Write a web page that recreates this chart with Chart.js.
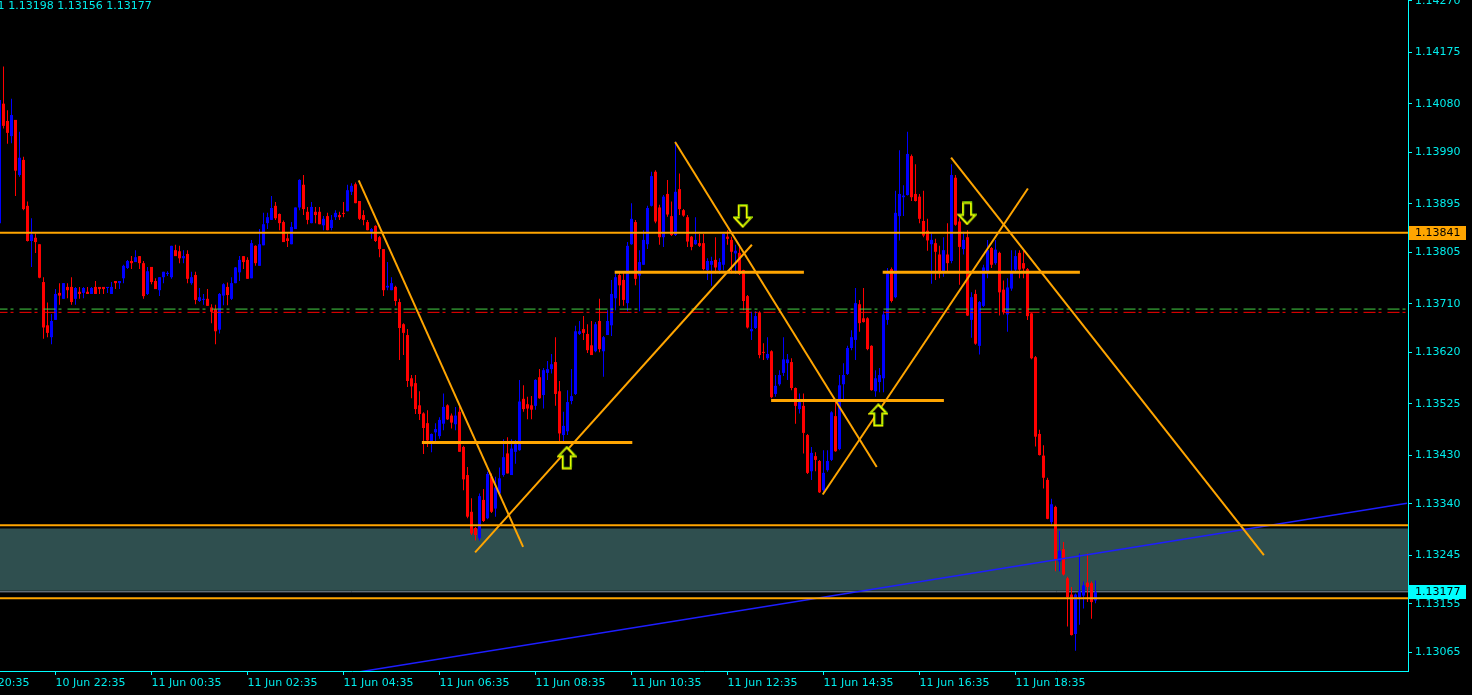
<!DOCTYPE html>
<html>
<head>
<meta charset="utf-8">
<script src="https://cdn.jsdelivr.net/npm/chart.js@4.4.0/dist/chart.umd.min.js"></script>
<style>
  html, body { margin: 0; padding: 0; background: #000; overflow: hidden; }
  #wrap { width: 1472px; height: 695px; }
</style>
</head>
<body>
<div id="wrap"><canvas id="chart"></canvas></div>
<script>
// EURUSD M5 bars, bar 0 = 10 Jun 21:25
const opens = [
  1.13859,1.14080,1.14048,1.14020,1.14050,1.13948,1.13976,1.13891,1.13826,1.13832,
  1.13820,1.13750,1.13670,1.13648,1.13680,1.13730,1.13719,1.13741,1.13741,1.13719,
  1.13732,1.13730,1.13732,1.13728,1.13741,1.13741,1.13741,1.13739,1.13728,1.13752,
  1.13748,1.13757,1.13776,1.13789,1.13787,1.13798,1.13785,1.13728,1.13778,1.13752,
  1.13735,1.13759,1.13765,1.13759,1.13809,1.13807,1.13794,1.13802,1.13748,1.13763,
  1.13715,1.13717,1.13719,1.13703,1.13700,1.13662,1.13725,1.13741,1.13719,1.13748,
  1.13768,1.13798,1.13791,1.13757,1.13817,1.13780,1.13818,1.13859,1.13865,1.13891,
  1.13876,1.13861,1.13831,1.13820,1.13848,1.13888,1.13930,1.13880,1.13859,1.13880,
  1.13880,1.13855,1.13872,1.13850,1.13870,1.13874,1.13878,1.13881,1.13917,1.13931,
  1.13900,1.13874,1.13861,1.13843,1.13854,1.13833,1.13811,1.13740,1.13735,1.13741,
  1.13713,1.13672,1.13652,1.13572,1.13563,1.13522,1.13507,1.13489,1.13454,1.13472,
  1.13465,1.13488,1.13522,1.13503,1.13487,1.13510,1.13445,1.13393,1.13325,1.13295,
  1.13276,1.13347,1.13313,1.13390,1.13331,1.13359,1.13393,1.13433,1.13393,1.13436,
  1.13439,1.13534,1.13524,1.13522,1.13521,1.13574,1.13541,1.13582,1.13589,1.13602,
  1.13548,1.13467,1.13474,1.13530,1.13543,1.13654,1.13663,1.13654,1.13633,1.13622,
  1.13678,1.13622,1.13652,1.13670,1.13720,1.13763,1.13754,1.13711,1.13820,1.13861,
  1.13762,1.13782,1.13820,1.13891,1.13954,1.13888,1.13833,1.13913,1.13872,1.13837,
  1.13922,1.13883,1.13870,1.13834,1.13820,1.13822,1.13822,1.13772,1.13782,1.13791,
  1.13772,1.13782,1.13834,1.13828,1.13803,1.13804,1.13772,1.13724,1.13659,1.13665,
  1.13694,1.13620,1.13609,1.13622,1.13543,1.13561,1.13582,1.13600,1.13602,1.13554,
  1.13515,1.13521,1.13467,1.13400,1.13428,1.13419,1.13365,1.13402,1.13421,1.13502,
  1.13441,1.13561,1.13580,1.13628,1.13643,1.13709,1.13683,1.13683,1.13632,1.13548,
  1.13565,1.13572,1.13680,1.13774,1.13722,1.13872,1.13907,1.13911,1.13983,1.13913,
  1.13908,1.13863,1.13845,1.13820,1.13822,1.13801,1.13769,1.13801,1.13789,1.13943,
  1.13862,1.13811,1.13833,1.13680,1.13728,1.13632,1.13706,1.13768,1.13813,1.13785,
  1.13804,1.13736,1.13690,1.13738,1.13773,1.13804,1.13785,1.13774,1.13692,1.13611,
  1.13469,1.13429,1.13384,1.13306,1.13334,1.13233,1.13256,1.13202,1.13172,1.13099,
  1.13167,1.13170,1.13194,1.13193,1.13161
];
const highs = [
  1.14090,1.14149,1.14068,1.14089,1.14050,1.14028,1.13982,1.13899,1.13868,1.13840,
  1.13820,1.13759,1.13712,1.13691,1.13737,1.13748,1.13748,1.13748,1.13759,1.13741,
  1.13741,1.13741,1.13741,1.13741,1.13752,1.13741,1.13741,1.13741,1.13750,1.13752,
  1.13752,1.13782,1.13791,1.13798,1.13809,1.13798,1.13789,1.13778,1.13778,1.13757,
  1.13759,1.13769,1.13770,1.13817,1.13819,1.13817,1.13809,1.13809,1.13769,1.13769,
  1.13739,1.13728,1.13737,1.13709,1.13708,1.13730,1.13748,1.13749,1.13759,1.13778,
  1.13798,1.13798,1.13796,1.13828,1.13818,1.13848,1.13878,1.13878,1.13909,1.13898,
  1.13877,1.13864,1.13840,1.13861,1.13888,1.13940,1.13948,1.13889,1.13898,1.13889,
  1.13889,1.13872,1.13878,1.13874,1.13883,1.13880,1.13898,1.13930,1.13933,1.13934,
  1.13900,1.13883,1.13865,1.13850,1.13855,1.13835,1.13811,1.13787,1.13759,1.13743,
  1.13719,1.13674,1.13663,1.13578,1.13578,1.13548,1.13509,1.13513,1.13470,1.13489,
  1.13500,1.13544,1.13524,1.13507,1.13519,1.13519,1.13447,1.13408,1.13350,1.13297,
  1.13359,1.13367,1.13399,1.13396,1.13390,1.13407,1.13459,1.13463,1.13459,1.13458,
  1.13569,1.13559,1.13538,1.13539,1.13570,1.13589,1.13591,1.13604,1.13617,1.13648,
  1.13567,1.13510,1.13550,1.13589,1.13669,1.13678,1.13687,1.13672,1.13678,1.13676,
  1.13719,1.13650,1.13698,1.13754,1.13768,1.13768,1.13768,1.13824,1.13896,1.13865,
  1.13809,1.13846,1.13891,1.13954,1.13957,1.13893,1.13911,1.13939,1.13899,1.14010,
  1.13951,1.13885,1.13874,1.13835,1.13870,1.13839,1.13839,1.13794,1.13797,1.13833,
  1.13794,1.13840,1.13846,1.13834,1.13819,1.13819,1.13773,1.13726,1.13695,1.13696,
  1.13696,1.13637,1.13648,1.13624,1.13578,1.13587,1.13648,1.13617,1.13609,1.13555,
  1.13544,1.13544,1.13469,1.13445,1.13435,1.13421,1.13439,1.13439,1.13511,1.13532,
  1.13578,1.13600,1.13632,1.13661,1.13739,1.13717,1.13739,1.13685,1.13633,1.13587,
  1.13591,1.13696,1.13776,1.13777,1.13919,1.13994,1.13929,1.14028,1.13986,1.13968,
  1.13913,1.13919,1.13867,1.13840,1.13830,1.13817,1.13833,1.13859,1.13968,1.13948,
  1.13868,1.13843,1.13846,1.13731,1.13736,1.13715,1.13782,1.13828,1.13815,1.13828,
  1.13806,1.13753,1.13757,1.13809,1.13809,1.13809,1.13808,1.13776,1.13693,1.13613,
  1.13477,1.13448,1.13388,1.13349,1.13336,1.13290,1.13269,1.13205,1.13186,1.13174,
  1.13248,1.13196,1.13248,1.13196,1.13198
];
const lows = [
  1.13855,1.14034,1.14006,1.14007,1.13909,1.13945,1.13883,1.13825,1.13778,1.13804,
  1.13757,1.13645,1.13648,1.13635,1.13680,1.13708,1.13719,1.13720,1.13708,1.13708,
  1.13719,1.13720,1.13728,1.13728,1.13728,1.13728,1.13728,1.13730,1.13728,1.13737,
  1.13737,1.13748,1.13774,1.13774,1.13787,1.13774,1.13719,1.13726,1.13746,1.13737,
  1.13724,1.13748,1.13761,1.13756,1.13798,1.13785,1.13785,1.13748,1.13745,1.13709,
  1.13713,1.13708,1.13706,1.13674,1.13635,1.13655,1.13707,1.13707,1.13717,1.13748,
  1.13752,1.13774,1.13756,1.13757,1.13780,1.13780,1.13818,1.13848,1.13865,1.13865,
  1.13846,1.13824,1.13815,1.13820,1.13848,1.13883,1.13874,1.13857,1.13859,1.13859,
  1.13857,1.13846,1.13846,1.13846,1.13865,1.13865,1.13870,1.13881,1.13911,1.13896,
  1.13865,1.13855,1.13846,1.13830,1.13824,1.13796,1.13724,1.13735,1.13735,1.13706,
  1.13606,1.13615,1.13556,1.13535,1.13506,1.13495,1.13432,1.13445,1.13435,1.13456,
  1.13460,1.13476,1.13495,1.13479,1.13476,1.13436,1.13365,1.13313,1.13282,1.13272,
  1.13272,1.13306,1.13311,1.13323,1.13316,1.13356,1.13390,1.13396,1.13393,1.13414,
  1.13438,1.13510,1.13496,1.13496,1.13514,1.13534,1.13516,1.13569,1.13581,1.13521,
  1.13451,1.13451,1.13467,1.13524,1.13541,1.13652,1.13643,1.13619,1.13615,1.13620,
  1.13620,1.13575,1.13652,1.13650,1.13698,1.13706,1.13706,1.13696,1.13819,1.13744,
  1.13696,1.13782,1.13811,1.13890,1.13859,1.13819,1.13815,1.13871,1.13835,1.13835,
  1.13874,1.13871,1.13815,1.13809,1.13819,1.13815,1.13772,1.13754,1.13743,1.13766,
  1.13765,1.13772,1.13819,1.13766,1.13765,1.13763,1.13698,1.13664,1.13643,1.13663,
  1.13609,1.13606,1.13606,1.13535,1.13538,1.13558,1.13576,1.13569,1.13550,1.13488,
  1.13507,1.13433,1.13395,1.13384,1.13400,1.13360,1.13362,1.13399,1.13419,1.13436,
  1.13439,1.13532,1.13578,1.13624,1.13606,1.13658,1.13675,1.13624,1.13549,1.13538,
  1.13546,1.13546,1.13671,1.13712,1.13720,1.13827,1.13872,1.13910,1.13900,1.13899,
  1.13859,1.13833,1.13808,1.13747,1.13754,1.13757,1.13760,1.13769,1.13785,1.13854,
  1.13745,1.13801,1.13687,1.13647,1.13634,1.13616,1.13704,1.13757,1.13776,1.13782,
  1.13688,1.13690,1.13658,1.13734,1.13769,1.13757,1.13757,1.13680,1.13607,1.13446,
  1.13429,1.13368,1.13311,1.13301,1.13215,1.13215,1.13207,1.13113,1.13096,1.13068,
  1.13116,1.13146,1.13158,1.13127,1.13156
];
const closes = [
  1.14087,1.14039,1.14026,1.14059,1.13956,1.13980,1.13885,1.13826,1.13838,1.13824,
  1.13758,1.13666,1.13656,1.13678,1.13728,1.13725,1.13748,1.13735,1.13713,1.13739,
  1.13728,1.13739,1.13728,1.13739,1.13728,1.13737,1.13737,1.13741,1.13741,1.13748,
  1.13752,1.13780,1.13789,1.13785,1.13796,1.13785,1.13724,1.13770,1.13750,1.13737,
  1.13759,1.13769,1.13767,1.13817,1.13798,1.13794,1.13798,1.13756,1.13759,1.13717,
  1.13722,1.13719,1.13706,1.13695,1.13659,1.13728,1.13746,1.13726,1.13748,1.13777,
  1.13791,1.13787,1.13756,1.13822,1.13785,1.13820,1.13857,1.13870,1.13887,1.13868,
  1.13859,1.13824,1.13826,1.13852,1.13888,1.13939,1.13885,1.13865,1.13889,1.13874,
  1.13857,1.13867,1.13846,1.13865,1.13878,1.13870,1.13876,1.13920,1.13928,1.13896,
  1.13867,1.13865,1.13846,1.13848,1.13826,1.13811,1.13735,1.13743,1.13748,1.13715,
  1.13665,1.13656,1.13567,1.13557,1.13515,1.13506,1.13480,1.13457,1.13469,1.13478,
  1.13495,1.13519,1.13496,1.13490,1.13503,1.13436,1.13385,1.13316,1.13285,1.13282,
  1.13354,1.13308,1.13395,1.13325,1.13370,1.13387,1.13426,1.13396,1.13442,1.13450,
  1.13529,1.13515,1.13516,1.13514,1.13569,1.13535,1.13587,1.13589,1.13598,1.13543,
  1.13470,1.13484,1.13528,1.13539,1.13659,1.13659,1.13656,1.13624,1.13615,1.13672,
  1.13626,1.13648,1.13678,1.13728,1.13759,1.13744,1.13717,1.13817,1.13867,1.13756,
  1.13787,1.13828,1.13887,1.13946,1.13862,1.13833,1.13908,1.13875,1.13837,1.13917,
  1.13885,1.13873,1.13825,1.13815,1.13828,1.13817,1.13774,1.13789,1.13789,1.13777,
  1.13787,1.13839,1.13830,1.13806,1.13808,1.13765,1.13715,1.13666,1.13663,1.13687,
  1.13615,1.13619,1.13617,1.13537,1.13558,1.13578,1.13607,1.13607,1.13554,1.13521,
  1.13528,1.13471,1.13397,1.13434,1.13421,1.13361,1.13397,1.13419,1.13509,1.13437,
  1.13559,1.13578,1.13628,1.13648,1.13711,1.13674,1.13676,1.13626,1.13550,1.13572,
  1.13578,1.13690,1.13766,1.13715,1.13878,1.13913,1.13910,1.13987,1.13907,1.13900,
  1.13867,1.13836,1.13827,1.13828,1.13806,1.13766,1.13809,1.13785,1.13948,1.13856,
  1.13815,1.13828,1.13688,1.13722,1.13636,1.13713,1.13777,1.13809,1.13782,1.13810,
  1.13731,1.13694,1.13740,1.13769,1.13798,1.13773,1.13775,1.13687,1.13609,1.13464,
  1.13430,1.13388,1.13312,1.13339,1.13237,1.13253,1.13209,1.13167,1.13097,1.13172,
  1.13178,1.13189,1.13186,1.13158,1.13177
];

// time axis (bar index of each label) and price axis
const tickBars = [-10, 14, 38, 62, 86, 110, 134, 158, 182, 206, 230, 254];
const tickLabels = ['10 Jun 20:35', '10 Jun 22:35', '11 Jun 00:35', '11 Jun 02:35', '11 Jun 04:35', '11 Jun 06:35',
  '11 Jun 08:35', '11 Jun 10:35', '11 Jun 12:35', '11 Jun 14:35', '11 Jun 16:35', '11 Jun 18:35'];
const priceTicks = [1.14270, 1.14175, 1.14080, 1.13990, 1.13895, 1.13805, 1.13710,
  1.13620, 1.13525, 1.13430, 1.13340, 1.13245, 1.13155, 1.13065];

// drawn objects
const orangeLevels = [1.13841, 1.13300, 1.13165];
const zoneTop = 1.13294, zoneBottom = 1.13179;
const bidPrice = 1.13177;
const dashGreen = 1.13700, dashRed = 1.13694;
const trendLines = [
  [89.8, 1.13938, 130.9, 1.13260],
  [118.9, 1.13250, 188.1, 1.13819],
  [168.9, 1.14009, 219.3, 1.13408],
  [205.8, 1.13357, 257.1, 1.13923],
  [237.9, 1.13980, 316.1, 1.13245]
];
const shortLevels = [
  [105.6, 158.2, 1.13453],
  [153.8, 201.1, 1.13768],
  [192.9, 236.1, 1.13531],
  [220.8, 270.1, 1.13768]
];
const blueLine = [80, 1.13017, 351.9, 1.13341];
const upArrows = [[141.8, 1.13425], [219.7, 1.13504]];
const downArrows = [[185.8, 1.13872], [241.9, 1.13877]];

const X_MIN = 0.125, X_MAX = 352.125;
const Y_MIN = 1.130305, Y_MAX = 1.142718;
const AXIS = '#00ffff';
const TXT = '#00ecec';
const ORANGE = '#ffa500';
const FONT = { family: 'DejaVu Sans', size: 11 };

const idx = closes.map((c, i) => i);
const colors = idx.map(i => closes[i] >= opens[i] ? '#0000ff' : '#ff0000');

function seg(x1, y1, x2, y2) { return [{ x: x1, y: y1 }, { x: x2, y: y2 }]; }
function lineDs(data, color, width, order, dash) {
  return { type: 'line', data, borderColor: color, borderWidth: width, pointRadius: 0,
    borderDash: dash || [], fill: false, order };
}

// hollow arrow glyph used as a point style
function makeArrow(up) {
  const c = document.createElement('canvas');
  c.width = 20; c.height = 24;
  const g = c.getContext('2d');
  let pts = [[10, 1.5], [18.5, 10.5], [14, 10.5], [14, 22.5], [6, 22.5], [6, 10.5], [1.5, 10.5]];
  if (!up) pts = pts.map(p => [p[0], 24 - p[1]]);
  const path = (dx, dy) => {
    g.beginPath();
    pts.forEach((p, i) => i ? g.lineTo(p[0] + dx, p[1] + dy) : g.moveTo(p[0] + dx, p[1] + dy));
    g.closePath();
  };
  path(0, 0);
  g.fillStyle = '#000';
  g.fill();
  g.lineWidth = 2;
  g.strokeStyle = '#ffff00';
  g.stroke();
  path(0.8, -0.8);
  g.lineWidth = 0.7;
  g.strokeStyle = '#4cc800';
  g.stroke();
  return c;
}
const upImg = makeArrow(true), downImg = makeArrow(false);

const datasets = [];
// rectangle zone
datasets.push({ type: 'line', data: seg(-1, zoneTop, 354, zoneTop), borderWidth: 0, pointRadius: 0,
  backgroundColor: '#2f4f4f', fill: { value: zoneBottom }, order: 30 });
// bid line
datasets.push(lineDs(seg(-1, bidPrice, 354, bidPrice), '#8a9aaa', 1, 25));
// candles: wicks then bodies
datasets.push({ type: 'bar', data: idx.map(i => ({ x: i, y: [lows[i], highs[i]] })),
  backgroundColor: colors, barThickness: 1, maxBarThickness: 1, grouped: false,
  minBarLength: 1, inflateAmount: 0, borderWidth: 0, order: 20 });
datasets.push({ type: 'bar', data: idx.map(i => ({ x: i, y: [opens[i], closes[i]] })),
  backgroundColor: colors, barThickness: 3, maxBarThickness: 3, grouped: false,
  minBarLength: 1, inflateAmount: 0, borderWidth: 0, order: 19 });
// dash-dot lines
datasets.push(lineDs(seg(-1, dashGreen, 354, dashGreen), '#46d246', 1, 10, [12, 3, 3, 6]));
datasets.push(lineDs(seg(-1, dashRed, 354, dashRed), '#ff0000', 1, 10, [12, 3, 3, 6]));
// blue trend line
datasets.push(lineDs(seg(...blueLine), '#1e1eff', 1.5, 8));
// orange levels and trend lines
orangeLevels.forEach(p => datasets.push(lineDs(seg(-1, p, 354, p), ORANGE, 2, 5)));
shortLevels.forEach(s => datasets.push(lineDs(seg(s[0], s[2], s[1], s[2]), ORANGE, 3, 5)));
trendLines.forEach(t => datasets.push(lineDs(seg(...t), ORANGE, 2, 5)));
// arrows
datasets.push({ type: 'line', showLine: false, data: upArrows.map(a => ({ x: a[0], y: a[1] })),
  pointStyle: upImg, pointRadius: 1, order: 0 });
datasets.push({ type: 'line', showLine: false, data: downArrows.map(a => ({ x: a[0], y: a[1] })),
  pointStyle: downImg, pointRadius: 1, order: 0 });

const overlay = {
  id: 'overlay',
  afterDraw(chart) {
    const { ctx, scales: { y } } = chart;
    ctx.save();
    ctx.font = '11px "DejaVu Sans"';
    ctx.textBaseline = 'middle';
    [[orangeLevels[0], ORANGE], [bidPrice, '#00ffff']].forEach(([p, bg]) => {
      const py = Math.round(y.getPixelForValue(p));
      ctx.fillStyle = bg;
      ctx.fillRect(y.left + 1, py - 7, 57, 14);
      ctx.fillStyle = '#000';
      ctx.fillText(p.toFixed(5), y.left + 7, py + 0.5);
    });
    // header: O H L C of last bar (open is mostly cut off at the left edge)
    const n = closes.length - 1;
    ctx.textBaseline = 'alphabetic';
    ctx.fillStyle = TXT;
    ctx.textAlign = 'right';
    ctx.fillText(opens[n].toFixed(5), 4.5, 9);
    ctx.textAlign = 'left';
    ctx.fillText([highs[n], lows[n], closes[n]].map(v => v.toFixed(5)).join(' '), 8.3, 9);
    ctx.restore();
  }
};

new Chart(document.getElementById('chart'), {
  type: 'bar',
  data: { datasets },
  plugins: [overlay],
  options: {
    responsive: true,
    maintainAspectRatio: false,
    animation: false,
    events: [],
    layout: { padding: 0, autoPadding: false },
    plugins: { legend: { display: false }, tooltip: { enabled: false } },
    scales: {
      x: {
        type: 'linear', position: 'bottom', min: X_MIN, max: X_MAX, offset: false, bounds: 'data',
        grid: { drawOnChartArea: false, drawTicks: true, tickLength: 4, color: AXIS, tickColor: AXIS, offset: false },
        border: { display: true, color: AXIS, width: 1 },
        ticks: { color: TXT, font: FONT, align: 'start', autoSkip: false, maxRotation: 0, minRotation: 0,
          padding: 2, callback: (v, i) => tickLabels[i] },
        afterBuildTicks: s => { s.ticks = tickBars.map(v => ({ value: v })); },
        afterFit: s => { s.height = 24; s.paddingLeft = 0; s.paddingRight = 0; }
      },
      y: {
        type: 'linear', position: 'right', min: Y_MIN, max: Y_MAX, bounds: 'data', beginAtZero: false,
        grid: { drawOnChartArea: false, drawTicks: true, tickLength: 4, color: AXIS, tickColor: AXIS },
        border: { display: true, color: AXIS, width: 1 },
        ticks: { color: TXT, font: FONT, padding: 3, autoSkip: false, callback: v => v.toFixed(5) },
        afterBuildTicks: s => { s.ticks = priceTicks.map(v => ({ value: v })); },
        afterFit: s => { s.width = 64; s.paddingTop = 0; s.paddingBottom = 0; }
      }
    }
  }
});
</script>
</body>
</html>
